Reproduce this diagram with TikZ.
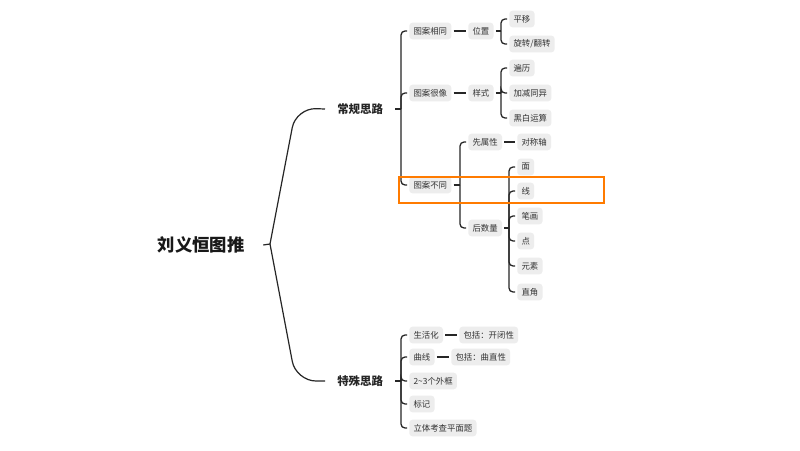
\documentclass[tikz,border=0pt]{standalone}
\usepackage{fontspec}
\setmainfont{Noto Sans CJK SC}
\begin{document}
\begin{tikzpicture}[x=0.75pt,y=-0.75pt,
  conn/.style={draw=black!85,line width=0.95pt},
  rootconn/.style={draw=black!85,line width=0.9pt},
  box/.style={fill=black!7,rounded corners=2.5pt,anchor=west,inner xsep=3.2pt,inner ysep=0pt,minimum height=12.5pt,font=\fontsize{6.3pt}{7pt}\selectfont,text=black!80},
  mainbr/.style={anchor=west,inner xsep=9pt,font=\fontsize{8.6pt}{10pt}\selectfont\bfseries,text=black!85},
  hl/.style={draw=orange!85!red!90!yellow,line width=1.5pt}]
\useasboundingbox[fill=white] (0,0) rectangle (800,450);

% root
\node[inner xsep=14pt,font=\fontsize{13pt}{15pt}\selectfont\bfseries,text=black!90] (root) at (201,245) {刘义恒图推};
\node[mainbr] (m1) at (325,109) {常规思路};
\node[mainbr] (m2) at (325,381) {特殊思路};
\coordinate (j0) at (270,244);
\coordinate (k1) at (296,108);
\coordinate (k2) at (296,381);
\draw[rootconn] (root.east) -- (j0);
\draw[rootconn,rounded corners=15pt] (j0) -- (k1) -- (m1.west);
\draw[rootconn,rounded corners=15pt] (j0) -- (k2) -- (m2.west);

% level 2 under 常规思路
\node[box] (a1) at (409,31) {图案相同};
\node[box] (a2) at (409,93) {图案很像};
\node[box] (a3) at (409,185) {图案不同};
\coordinate (j1) at (401,109);
\draw[conn] (m1.east) -- (j1);
\foreach \n in {a1,a2,a3}{\draw[conn,rounded corners=3pt] (j1) |- ([xshift=-1.5pt]\n.west);}

% 图案相同
\node[box] (b1) at (468,31) {位置};
\draw[conn,shorten <=1.5pt,shorten >=1.5pt] (a1.east) -- (b1.west);
\node[box] (c1) at (509,19) {平移};
\node[box] (c2) at (509,44) {旋转/翻转};
\coordinate (j2) at (501,31);
\draw[conn,shorten <=1.5pt] (b1.east) -- (j2);
\foreach \n in {c1,c2}{\draw[conn,rounded corners=3pt] (j2) |- ([xshift=-1.5pt]\n.west);}

% 图案很像
\node[box] (b2) at (468,93) {样式};
\draw[conn,shorten <=1.5pt,shorten >=1.5pt] (a2.east) -- (b2.west);
\node[box] (c3) at (509,68) {遍历};
\node[box] (c4) at (509,93) {加减同异};
\node[box] (c5) at (509,118) {黑白运算};
\coordinate (j3) at (501,93);
\draw[conn,shorten <=1.5pt] (b2.east) -- (j3);
\foreach \n in {c3,c4,c5}{\draw[conn,rounded corners=3pt] (j3) |- ([xshift=-1.5pt]\n.west);}

% 图案不同
\node[box] (b3) at (468,142) {先属性};
\node[box] (b4) at (468,228) {后数量};
\coordinate (j4) at (460,185);
\draw[conn,shorten <=1.5pt] (a3.east) -- (j4);
\foreach \n in {b3,b4}{\draw[conn,rounded corners=3pt] (j4) |- ([xshift=-1.5pt]\n.west);}
\node[box] (c6) at (517,142) {对称轴};
\draw[conn,shorten <=1.5pt,shorten >=1.5pt] (b3.east) -- (c6.west);
\node[box] (d1) at (517,167) {面};
\node[box] (d2) at (517,191) {线};
\node[box] (d3) at (517,216) {笔画};
\node[box] (d4) at (517,241) {点};
\node[box] (d5) at (517,266) {元素};
\node[box] (d6) at (517,292) {直角};
\coordinate (j5) at (509,228);
\draw[conn,shorten <=1.5pt] (b4.east) -- (j5);
\foreach \n in {d1,d2,d3,d4,d5,d6}{\draw[conn,rounded corners=3pt] (j5) |- ([xshift=-1.5pt]\n.west);}

% 特殊思路
\node[box] (s1) at (409,335) {生活化};
\node[box] (s1b) at (459,335) {包括：开闭性};
\node[box] (s2) at (409,357) {曲线};
\node[box] (s2b) at (451,357) {包括：曲直性};
\node[box] (s3) at (409,381) {2\textasciitilde3个外框};
\node[box] (s4) at (409,404) {标记};
\node[box] (s5) at (409,428) {立体考查平面题};
\coordinate (j6) at (401,381);
\draw[conn] (m2.east) -- (j6);
\foreach \n in {s1,s2,s3,s4,s5}{\draw[conn,rounded corners=3pt] (j6) |- ([xshift=-1.5pt]\n.west);}
\draw[conn,shorten <=1.5pt,shorten >=1.5pt] (s1.east) -- (s1b.west);
\draw[conn,shorten <=1.5pt,shorten >=1.5pt] (s2.east) -- (s2b.west);

% highlight
\draw[hl] (399,177) rectangle (604,203);
\end{tikzpicture}
\end{document}
